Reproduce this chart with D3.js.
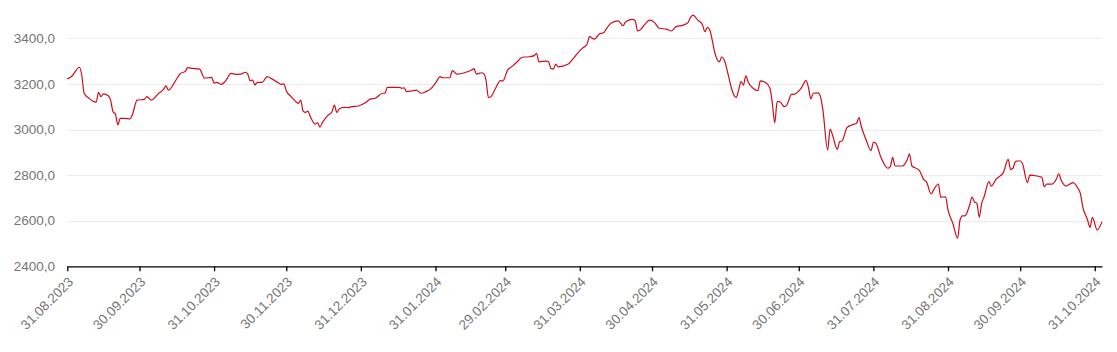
<!DOCTYPE html>
<html>
<head>
<meta charset="utf-8">
<script src="https://cdnjs.cloudflare.com/ajax/libs/d3/7.8.5/d3.min.js"></script>
<style>
body { margin: 0; background: #fff; }
svg text { font-family: "Liberation Sans", Arial, sans-serif; }
</style>
</head>
<body>
<div id="chart"></div>
<script>
var w = 1117;
var h = 352;

// index level
var dates = [
	"2023-08-31","2023-09-02","2023-09-05","2023-09-06","2023-09-07","2023-09-09","2023-09-11","2023-09-12","2023-09-13","2023-09-14",
	"2023-09-15","2023-09-17","2023-09-18","2023-09-19","2023-09-20","2023-09-21","2023-09-22","2023-09-24","2023-09-26","2023-09-27",
	"2023-09-29","2023-10-02","2023-10-03","2023-10-05","2023-10-08","2023-10-10","2023-10-11","2023-10-12","2023-10-15","2023-10-17",
	"2023-10-19","2023-10-20","2023-10-22","2023-10-25","2023-10-27","2023-10-30","2023-10-31","2023-11-01","2023-11-03","2023-11-05",
	"2023-11-07","2023-11-09","2023-11-11","2023-11-13","2023-11-14","2023-11-15","2023-11-16","2023-11-17","2023-11-18","2023-11-20",
	"2023-11-22","2023-11-24","2023-11-27","2023-11-28","2023-11-29","2023-11-30","2023-12-02","2023-12-04","2023-12-05","2023-12-06",
	"2023-12-07","2023-12-08","2023-12-09","2023-12-10","2023-12-12","2023-12-13","2023-12-14","2023-12-15","2023-12-17","2023-12-19",
	"2023-12-20","2023-12-21","2023-12-22","2023-12-24","2023-12-26","2023-12-27","2023-12-30","2024-01-02","2024-01-04","2024-01-06",
	"2024-01-09","2024-01-10","2024-01-11","2024-01-16","2024-01-17","2024-01-18","2024-01-19","2024-01-21","2024-01-23","2024-01-25",
	"2024-01-27","2024-01-29","2024-01-31","2024-02-02","2024-02-03","2024-02-06","2024-02-07","2024-02-09","2024-02-12","2024-02-15",
	"2024-02-16","2024-02-17","2024-02-19","2024-02-20","2024-02-21","2024-02-22","2024-02-23","2024-02-25","2024-02-27","2024-02-28",
	"2024-03-01","2024-03-03","2024-03-05","2024-03-07","2024-03-10","2024-03-12","2024-03-13","2024-03-14","2024-03-17","2024-03-18",
	"2024-03-19","2024-03-20","2024-03-21","2024-03-22","2024-03-26","2024-03-28","2024-03-30","2024-04-01","2024-04-03","2024-04-04",
	"2024-04-06","2024-04-08","2024-04-10","2024-04-11","2024-04-13","2024-04-16","2024-04-18","2024-04-19","2024-04-22","2024-04-23",
	"2024-04-24","2024-04-25","2024-04-27","2024-04-29","2024-05-01","2024-05-03","2024-05-06","2024-05-08","2024-05-10","2024-05-13",
	"2024-05-15","2024-05-16","2024-05-17","2024-05-19","2024-05-21","2024-05-22","2024-05-23","2024-05-24","2024-05-25","2024-05-26",
	"2024-05-28","2024-05-29","2024-05-30","2024-06-01","2024-06-02","2024-06-04","2024-06-05","2024-06-06","2024-06-07","2024-06-08",
	"2024-06-09","2024-06-11","2024-06-13","2024-06-14","2024-06-16","2024-06-18","2024-06-19","2024-06-20","2024-06-21","2024-06-22",
	"2024-06-24","2024-06-25","2024-06-27","2024-06-28","2024-07-01","2024-07-03","2024-07-04","2024-07-05","2024-07-06","2024-07-08",
	"2024-07-09","2024-07-10","2024-07-12","2024-07-13","2024-07-14","2024-07-16","2024-07-17","2024-07-18","2024-07-20","2024-07-22",
	"2024-07-24","2024-07-25","2024-07-26","2024-07-28","2024-07-30","2024-07-31","2024-08-01","2024-08-03","2024-08-06","2024-08-07",
	"2024-08-08","2024-08-09","2024-08-12","2024-08-14","2024-08-15","2024-08-16","2024-08-19","2024-08-21","2024-08-22","2024-08-24",
	"2024-08-25","2024-08-27","2024-08-28","2024-08-30","2024-08-31","2024-09-02","2024-09-04","2024-09-05","2024-09-06","2024-09-07",
	"2024-09-09","2024-09-10","2024-09-11","2024-09-12","2024-09-13","2024-09-14","2024-09-15","2024-09-17","2024-09-18","2024-09-20",
	"2024-09-23","2024-09-25","2024-09-26","2024-09-27","2024-09-28","2024-09-30","2024-10-01","2024-10-03","2024-10-04","2024-10-07",
	"2024-10-09","2024-10-10","2024-10-11","2024-10-13","2024-10-15","2024-10-16","2024-10-17","2024-10-19","2024-10-22","2024-10-24",
	"2024-10-25","2024-10-26","2024-10-28","2024-10-29","2024-10-30","2024-11-01","2024-11-03"
];
var values = [
	3222,3235,3273,3239,3159,3137,3122,3120,3163,3144,
	3156,3148,3129,3078,3068,3020,3049,3049,3046,3064,
	3129,3132,3144,3129,3159,3176,3191,3173,3214,3246,
	3254,3271,3268,3265,3225,3229,3203,3207,3198,3217,
	3246,3242,3243,3251,3243,3214,3217,3195,3207,3207,
	3232,3222,3203,3198,3200,3170,3144,3122,3115,3129,
	3081,3075,3081,3056,3024,3030,3010,3030,3059,3078,
	3107,3075,3090,3097,3096,3100,3103,3118,3134,3137,
	3159,3159,3185,3185,3181,3183,3166,3169,3173,3159,
	3166,3178,3203,3232,3227,3227,3258,3243,3249,3261,
	3267,3243,3249,3246,3217,3141,3144,3181,3214,3213,
	3261,3278,3297,3317,3319,3324,3334,3297,3300,3297,
	3268,3265,3287,3275,3286,3308,3334,3356,3374,3407,
	3396,3418,3425,3441,3466,3476,3455,3473,3483,3476,
	3432,3436,3461,3480,3470,3444,3440,3432,3451,3458,
	3470,3492,3502,3480,3458,3429,3448,3436,3393,3341,
	3297,3319,3305,3225,3181,3141,3173,3210,3195,3235,
	3207,3181,3170,3213,3207,3181,3115,3030,3122,3122,
	3100,3107,3154,3154,3181,3214,3185,3134,3159,3161,
	3144,3086,2910,3002,2976,2913,2947,2950,3008,3020,
	3027,3052,3012,2954,2907,2944,2940,2881,2830,2837,
	2878,2840,2840,2866,2893,2840,2822,2779,2771,2717,
	2735,2761,2703,2705,2647,2589,2523,2603,2621,2621,
	2669,2703,2683,2676,2615,2676,2705,2771,2752,2782,
	2811,2869,2825,2830,2859,2863,2849,2767,2800,2796,
	2790,2749,2760,2760,2782,2805,2779,2752,2767,2742,
	2720,2661,2603,2571,2615,2559,2596
];

var xTicks = ["2023-08-31","2023-09-30","2023-10-31","2023-11-30","2023-12-31","2024-01-31",
	"2024-02-29","2024-03-31","2024-04-30","2024-05-31","2024-06-30","2024-07-31",
	"2024-08-31","2024-09-30","2024-10-31"];
var yTicks = [2400, 2600, 2800, 3000, 3200, 3400];

var parse = d3.timeParse("%Y-%m-%d");
var data = dates.map(function (d, i) {
	return { date: parse(d), value: values[i] };
});

var plotLeft = 67.3, plotRight = 1102, plotBottom = 266.3, plotTop = 38.3;

var xScale = d3.scaleTime()
	.domain([data[0].date, data[data.length - 1].date])
	.range([plotLeft, plotRight]);

var yScale = d3.scaleLinear()
	.domain([2400, 3400])
	.range([plotBottom, plotTop]);

var svg = d3.select("#chart")
	.append("svg")
	.attr("width", w)
	.attr("height", h);

// gridlines
svg.append("g")
	.selectAll("line")
	.data(yTicks.slice(1))
	.enter()
	.append("line")
	.attr("x1", plotLeft)
	.attr("x2", plotRight)
	.attr("y1", function (d) { return Math.round(yScale(d)) + 0.5; })
	.attr("y2", function (d) { return Math.round(yScale(d)) + 0.5; })
	.attr("stroke", "#ececec")
	.attr("stroke-width", 1);

// y labels
var fmt = d3.format(".1f");
svg.append("g")
	.selectAll("text")
	.data(yTicks)
	.enter()
	.append("text")
	.attr("x", 55)
	.attr("y", function (d) { return yScale(d); })
	.attr("dy", "0.35em")
	.attr("text-anchor", "end")
	.attr("font-size", "13.5px")
	.attr("fill", "#757575")
	.text(function (d) { return fmt(d).replace(".", ","); });

// x axis
var xAxis = svg.append("g")
	.attr("transform", "translate(0," + plotBottom + ")")
	.call(d3.axisBottom(xScale)
		.tickValues(xTicks.map(parse))
		.tickFormat(d3.timeFormat("%d.%m.%Y"))
		.tickSize(5)
		.tickSizeOuter(0));

xAxis.select(".domain").attr("stroke", "#000").attr("stroke-width", 1.3);
xAxis.selectAll(".tick line").attr("stroke", "#000").attr("stroke-width", 1.3);
xAxis.selectAll(".tick text")
	.attr("x", 0)
	.attr("y", 0)
	.attr("dy", "0.35em")
	.attr("text-anchor", "end")
	.attr("transform", "translate(3,13) rotate(-45)")
	.attr("font-size", "13.5px")
	.attr("font-family", "Liberation Sans, Arial, sans-serif")
	.attr("fill", "#757575");

// line
var line = d3.line()
	.x(function (d) { return xScale(d.date); })
	.y(function (d) { return yScale(d.value); })
	.curve(d3.curveMonotoneX);

svg.append("path")
	.datum(data)
	.attr("d", line)
	.attr("fill", "none")
	.attr("stroke", "#cf0d1a")
	.attr("stroke-width", 1.2);
</script>
</body>
</html>
